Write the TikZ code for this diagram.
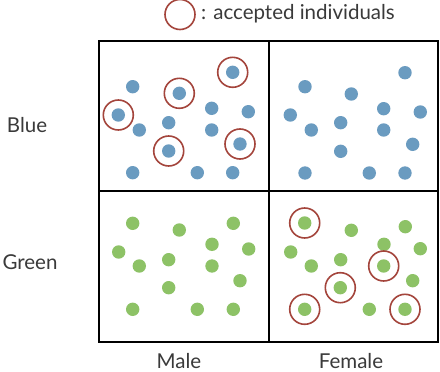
\documentclass[tikz,border=0pt]{standalone}
\usepackage{fontspec}
\setmainfont{Lato}
\definecolor{dotblue}{HTML}{6A9BC0}
\definecolor{dotgreen}{HTML}{8DC266}
\definecolor{ringred}{HTML}{A4453C}
\definecolor{txt}{HTML}{3A3A3A}
\tikzset{
  bdot/.style={circle,fill=dotblue,minimum size=13.4pt,inner sep=0pt},
  gdot/.style={circle,fill=dotgreen,minimum size=13.4pt,inner sep=0pt},
  ring/.style={circle,draw=ringred,line width=1.6pt,minimum size=30pt,inner sep=0pt},
  frame/.style={draw=black,line width=2pt},
  lbl/.style={text=txt,font=\fontsize{20.5}{24}\selectfont,inner sep=0pt}
}
\begin{document}
\begin{tikzpicture}[x=1pt,y=-1pt]
\useasboundingbox[fill=white] (0,0) rectangle (440,372);
% frame
\draw[frame] (99,41) rectangle (438,342);
\draw[frame] (269,41) -- (269,342);
\draw[frame] (99,191) -- (438,191);
% legend
\node[ring] (legring) at (180,14.5) {};
\node[lbl,anchor=west] (legtxt) at (201,14) {: accepted individuals};
% row/column labels
\node[lbl] (blue) at (27,125) {Blue};
\node[lbl] (green) at (30,262) {Green};
\node[lbl,anchor=base] (male) at (179,368) {Male};
\node[lbl,anchor=base] (female) at (351,368) {Female};
% blue male
\foreach \x/\y [count=\i] in {132.7/86.7,179.3/93.3,232.7/72.3,118.3/115,211.7/108.3,248.3/111.7,139.3/130,168.7/122.7,211.7/130,240/144,168.7/151,132.7/172.7,197.3/172.7,232.7/172.7}
  \node[bdot] (bm\i) at (\x,\y) {};
\foreach \i in {2,3,4,10,11}
  \node[ring] (rbm\i) at (bm\i) {};
% blue female
\foreach \x/\y [count=\i] in {305/86.7,351.3/94,405/72.7,290.3/115,383.7/108.7,420.3/112,311.3/130,340.7/122.7,383.7/130,412.7/144.3,340.7/151.3,305/173,369.3/173,405/173}
  \node[bdot] (bf\i) at (\x,\y) {};
% green male
\foreach \x/\y [count=\i] in {132.7/223.3,179.3/230,233.3/223.3,118.7/252,212/244.3,248.7/249,139.3/266,168.7/259.7,212/266,240/280.7,168.7/287.7,132.7/309.3,197.3/309.3,233.3/309.3}
  \node[gdot] (gm\i) at (\x,\y) {};
% green female
\foreach \x/\y [count=\i] in {304.7/223,351.3/230.3,405.3/226.7,290.7/252,384/244.3,420.3/248.7,311.3/266,340.7/259.7,383.7/266,412.7/280.7,340.3/287.7,304.7/309.3,369.3/309.3,405/309.3}
  \node[gdot] (gf\i) at (\x,\y) {};
\foreach \i in {1,9,11,12,14}
  \node[ring] (rgf\i) at (gf\i) {};
\end{tikzpicture}
\end{document}
